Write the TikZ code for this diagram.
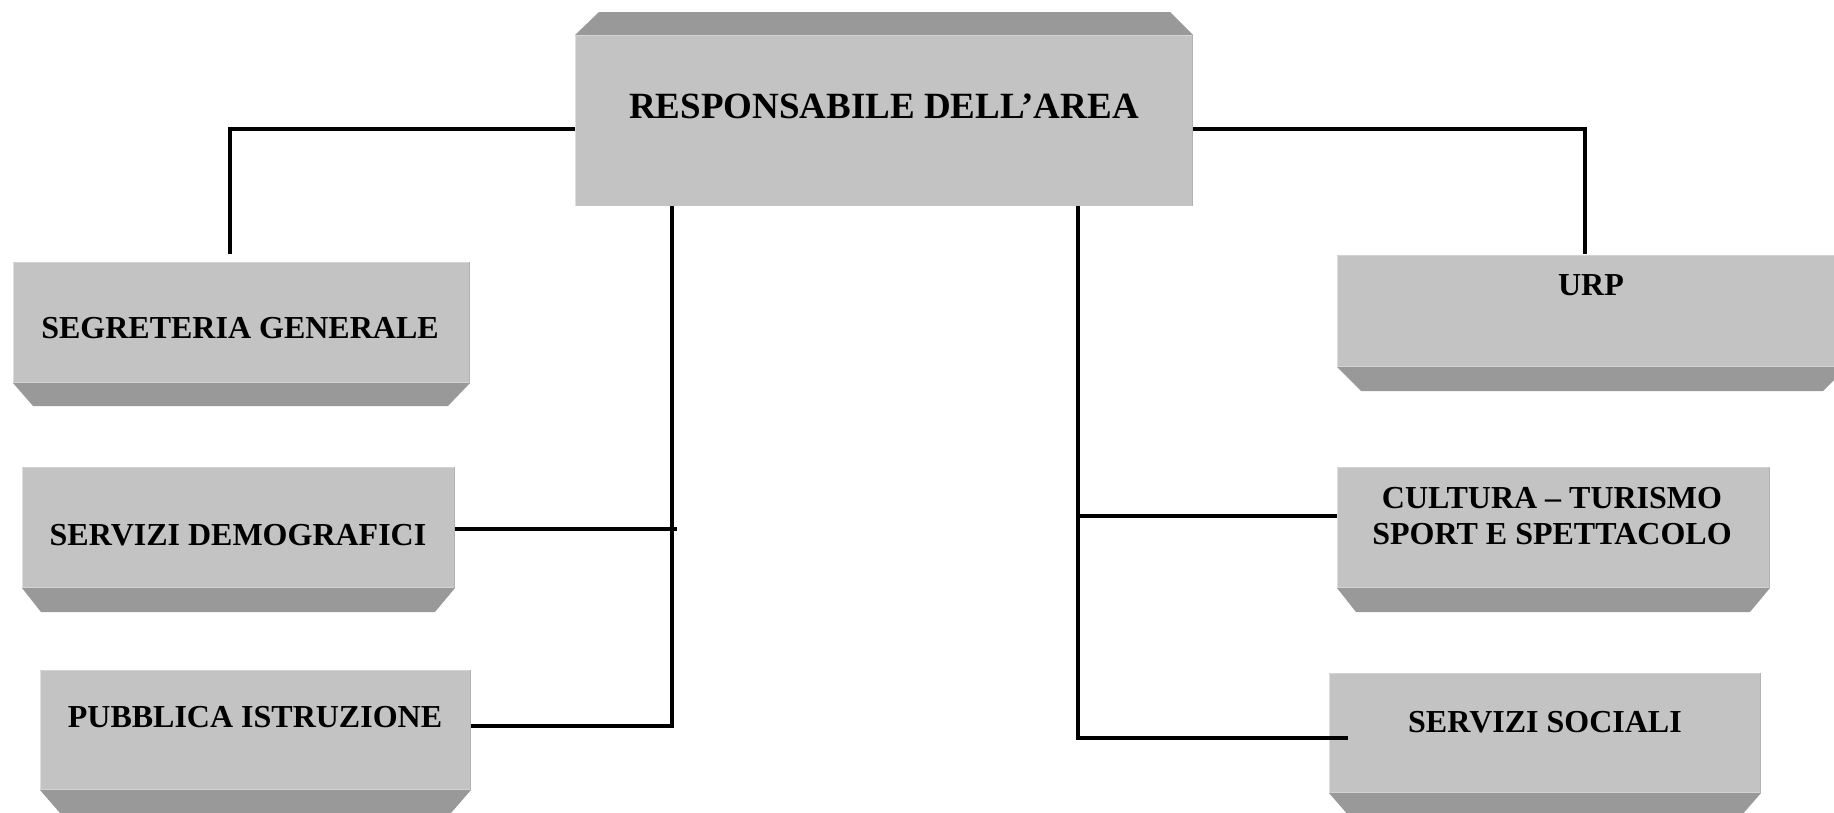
\documentclass[tikz,border=0pt]{standalone}
\usepackage{fontspec}
\setmainfont{Liberation Serif}
\definecolor{faceclr}{HTML}{C3C3C3}
\definecolor{bevclr}{HTML}{999999}
\definecolor{hiclr}{HTML}{DEDEDE}
\definecolor{loclr}{HTML}{B2B2B2}
\newcommand\botbev[4]{%
  \fill[bevclr] (#1.south west) -- (#1.south east) -- ([xshift=-#3pt,yshift=-#4pt]#1.south east) -- ([xshift=#2pt,yshift=-#4pt]#1.south west) -- cycle;
  \draw[hiclr,line width=1.4pt] ([xshift=0.7pt]#1.south west) -- ([xshift=0.7pt]#1.north west);
  \draw[hiclr!60!faceclr,line width=1.4pt] ([yshift=-0.7pt]#1.north west) -- ([yshift=-0.7pt]#1.north east);
  \draw[hiclr!60!faceclr,line width=1.4pt] ([yshift=0.7pt]#1.south west) -- ([yshift=0.7pt]#1.south east);
  \draw[loclr,line width=1.2pt] ([xshift=-0.6pt]#1.south east) -- ([xshift=-0.6pt]#1.north east);}
\begin{document}
\begin{tikzpicture}[x=1pt,y=-1pt,
  frontbox/.style={fill=faceclr, draw=none, inner sep=0pt, outer sep=0pt},
  boxtext/.style={font=\bfseries\fontsize{32}{36}\selectfont, anchor=base, align=center, inner sep=0pt},
  toptext/.style={font=\bfseries\fontsize{37}{42}\selectfont, anchor=base, inner sep=0pt},
  conn/.style={line width=3.8pt, line join=miter, black}]
\useasboundingbox (0,0) rectangle (1834,812);

% top box
\node[frontbox, minimum width=618pt, minimum height=171pt] (top) at (884,120.5) {};
\fill[bevclr] (top.north west) -- (top.north east) -- ([xshift=-23pt,yshift=23pt]top.north east) -- ([xshift=24pt,yshift=23pt]top.north west) -- cycle;
\draw[hiclr,line width=1.4pt] ([xshift=0.7pt]top.south west) -- ([xshift=0.7pt]top.north west);
\draw[hiclr!60!faceclr,line width=1.4pt] ([yshift=-0.7pt]top.north west) -- ([yshift=-0.7pt]top.north east);
\draw[loclr,line width=1.2pt] ([xshift=-0.6pt]top.south east) -- ([xshift=-0.6pt]top.north east);
\node[toptext] (toptx) at (884,118.5) {RESPONSABILE DELL’AREA};

% left boxes
\node[frontbox, minimum width=457pt, minimum height=121pt] (seg) at (241.5,322.5) {};
\botbev{seg}{20}{22}{23}
\node[boxtext] (segtx) at (240,338) {SEGRETERIA GENERALE};

\node[frontbox, minimum width=433pt, minimum height=121pt] (dem) at (238.5,527.5) {};
\botbev{dem}{19}{20}{24}
\node[boxtext] (demtx) at (238,545) {SERVIZI DEMOGRAFICI};

\node[frontbox, minimum width=431pt, minimum height=120pt] (pub) at (255.5,730) {};
\botbev{pub}{20}{20}{23}
\node[boxtext] (pubtx) at (255,727) {PUBBLICA ISTRUZIONE};

% right boxes
\node[frontbox, minimum width=510pt, minimum height=112pt] (urp) at (1592,311) {};
\botbev{urp}{24}{24}{24}
\node[boxtext] (urptx) at (1591,295) {URP};

\node[frontbox, minimum width=433pt, minimum height=121pt] (cul) at (1553.5,527.5) {};
\botbev{cul}{19}{20}{24}
\node[boxtext, anchor=center] (cultx) at (1552,516.5) {CULTURA – TURISMO\\SPORT E SPETTACOLO};

\node[frontbox, minimum width=432pt, minimum height=120pt] (soc) at (1545,733) {};
\botbev{soc}{20}{20}{23}
\node[boxtext] (soctx) at (1545,732) {SERVIZI SOCIALI};

% connectors
\coordinate (jl) at (230,129);
\coordinate (jr) at (1585,129);
\coordinate (dl) at (677,529);
\coordinate (pl) at (672,726);
\coordinate (cl) at (1078,516);
\coordinate (sl) at (1078,738);

\draw[conn] (top.west |- jl) -| ([yshift=8pt]seg.north -| jl);
\draw[conn] (top.east |- jr) -| ([yshift=1pt]urp.north -| jr);
\draw[conn] (top.south -| pl) -- (pl) -- (pub.east |- pl);
\draw[conn] (dem.east |- dl) -- (dl);
\draw[conn] (top.south -| sl) -- (sl) -- ([xshift=19pt]soc.west |- sl);
\draw[conn] (cl) -- (cul.west |- cl);
\end{tikzpicture}
\end{document}
